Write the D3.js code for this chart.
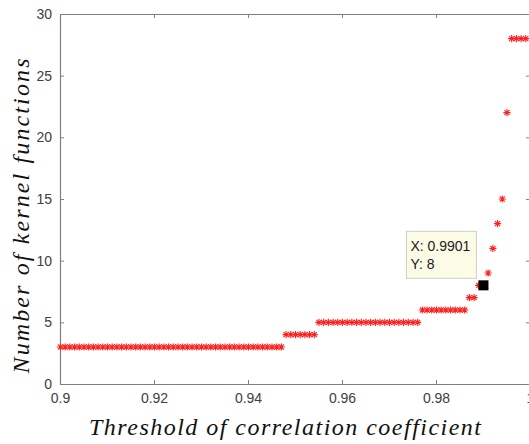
<!DOCTYPE html>
<html lang="en">
<head>
  <title>kernel functions vs threshold</title>
  <script type="text/javascript" src="https://cdn.jsdelivr.net/npm/d3@7"></script>
  <style>
    body {
      margin: 0px;
      background: white;
    }
    svg {
      display: block;
    }
  </style>
</head>
<body>
  <script type="text/javascript">
    // Data
    var thresholds = [
      0.9001, 0.9011, 0.9021, 0.9031, 0.9041, 0.9051, 0.9061, 0.9071, 0.9081, 0.9091,
      0.9101, 0.9111, 0.9121, 0.9131, 0.9141, 0.9151, 0.9161, 0.9171, 0.9181, 0.9191,
      0.9201, 0.9211, 0.9221, 0.9231, 0.9241, 0.9251, 0.9261, 0.9271, 0.9281, 0.9291,
      0.9301, 0.9311, 0.9321, 0.9331, 0.9341, 0.9351, 0.9361, 0.9371, 0.9381, 0.9391,
      0.9401, 0.9411, 0.9421, 0.9431, 0.9441, 0.9451, 0.9461, 0.9471, 0.9481, 0.9491,
      0.9501, 0.9511, 0.9521, 0.9531, 0.9541, 0.9551, 0.9561, 0.9571, 0.9581, 0.9591,
      0.9601, 0.9611, 0.9621, 0.9631, 0.9641, 0.9651, 0.9661, 0.9671, 0.9681, 0.9691,
      0.9701, 0.9711, 0.9721, 0.9731, 0.9741, 0.9751, 0.9761, 0.9771, 0.9781, 0.9791,
      0.9801, 0.9811, 0.9821, 0.9831, 0.9841, 0.9851, 0.9861, 0.9871, 0.9881, 0.9891,
      0.9901, 0.9911, 0.9921, 0.9931, 0.9941, 0.9951, 0.9961, 0.9971, 0.9981, 0.9991
    ];
    var kernelCounts = [
      3, 3, 3, 3, 3, 3, 3, 3, 3, 3,
      3, 3, 3, 3, 3, 3, 3, 3, 3, 3,
      3, 3, 3, 3, 3, 3, 3, 3, 3, 3,
      3, 3, 3, 3, 3, 3, 3, 3, 3, 3,
      3, 3, 3, 3, 3, 3, 3, 3, 4, 4,
      4, 4, 4, 4, 4, 5, 5, 5, 5, 5,
      5, 5, 5, 5, 5, 5, 5, 5, 5, 5,
      5, 5, 5, 5, 5, 5, 5, 6, 6, 6,
      6, 6, 6, 6, 6, 6, 6, 7, 7, 8,
      8, 9, 11, 13, 15, 22, 28, 28, 28, 28
    ];
    var xTicks = [0.9, 0.92, 0.94, 0.96, 0.98, 1];
    var yTicks = [0, 5, 10, 15, 20, 25, 30];
    var tipIndex = 90;  // the data tip point

    // Layout (note: "top" is a reserved window property, so use other names)
    var width = 529;
    var height = 444;
    var plotLeft = 60, plotTop = 14, plotRight = 530, plotBottom = 384;

    var svg = d3.select("body").append("svg")
      .attr("width", width)
      .attr("height", height);

    svg.append("rect")
      .attr("width", width)
      .attr("height", height)
      .attr("fill", "white");

    var x = d3.scaleLinear().domain([0.9, 1.0]).range([plotLeft, plotRight]);
    var y = d3.scaleLinear().domain([0, 30]).range([plotBottom, plotTop]);

    var axisColor = "#808080";
    var labelColor = "#404040";

    // Axes (MATLAB style: ticks pointing inward, box on)
    var gx = svg.append("g")
      .attr("transform", "translate(0," + plotBottom + ")")
      .call(d3.axisBottom(x).tickValues(xTicks).tickSizeInner(-4).tickSizeOuter(0)
        .tickFormat(function(d) { return d === 1 ? "1" : d3.format(".2~f")(d); }));
    var gy = svg.append("g")
      .attr("transform", "translate(" + plotLeft + ",0)")
      .call(d3.axisLeft(y).tickValues(yTicks).tickSizeInner(-4).tickSizeOuter(0));
    var gt = svg.append("g")
      .attr("transform", "translate(0," + plotTop + ")")
      .call(d3.axisTop(x).tickValues(xTicks).tickSizeInner(-4).tickSizeOuter(0).tickFormat(""));
    var gr = svg.append("g")
      .attr("transform", "translate(" + plotRight + ",0)")
      .call(d3.axisRight(y).tickValues(yTicks).tickSizeInner(-4).tickSizeOuter(0).tickFormat(""));

    [gx, gy, gt, gr].forEach(function(g) {
      g.select(".domain").attr("stroke", axisColor).attr("stroke-width", 1.2);
      g.selectAll(".tick line").attr("stroke", axisColor);
      g.selectAll(".tick text")
        .attr("fill", labelColor)
        .style("font-family", "'Liberation Sans', Arial, sans-serif")
        .style("font-size", "14px");
    });
    gx.selectAll(".tick text").attr("y", 9);
    gy.selectAll(".tick text").attr("x", -8);

    // Asterisk markers
    var r = 3.6;
    var d45 = r * Math.SQRT1_2;
    var starPath = "M" + (-r) + ",0L" + r + ",0" +
      "M0," + (-r) + "L0," + r +
      "M" + (-d45) + "," + (-d45) + "L" + d45 + "," + d45 +
      "M" + (-d45) + "," + d45 + "L" + d45 + "," + (-d45);

    var points = thresholds.map(function(t, i) { return {x: t, y: kernelCounts[i]}; });

    svg.append("g").selectAll("path")
      .data(points)
      .enter().append("path")
      .attr("d", starPath)
      .attr("transform", function(d) { return "translate(" + x(d.x) + "," + y(d.y) + ")"; })
      .attr("fill", "none")
      .attr("stroke", "#ff2020")
      .attr("stroke-width", 1.1);

    // Data tip
    var tip = points[tipIndex];
    svg.append("rect")
      .attr("x", x(tip.x) - 5)
      .attr("y", y(tip.y) - 5)
      .attr("width", 10)
      .attr("height", 10)
      .attr("fill", "black");

    var tx = x(tip.x) - 77, ty = y(tip.y) - 54;
    svg.append("rect")
      .attr("x", tx)
      .attr("y", ty)
      .attr("width", 70)
      .attr("height", 47)
      .attr("fill", "#fbfbe6")
      .attr("stroke", "#d0d0c8")
      .attr("stroke-width", 1);

    svg.append("g").selectAll("text")
      .data(["X: " + d3.format(".4f")(tip.x), "Y: " + tip.y])
      .enter().append("text")
      .attr("x", tx + 4)
      .attr("y", function(d, i) { return ty + 20 + i * 18; })
      .attr("fill", "#1a1a1a")
      .style("font-family", "'Liberation Sans', Arial, sans-serif")
      .style("font-size", "14px")
      .text(function(d) { return d; });

    // Axis titles
    svg.append("text")
      .attr("x", 285)
      .attr("y", 435)
      .attr("text-anchor", "middle")
      .attr("textLength", 392)
      .attr("lengthAdjust", "spacing")
      .attr("fill", "#111")
      .style("font-family", "'Liberation Serif', 'DejaVu Serif', serif")
      .style("font-style", "italic")
      .style("font-size", "24px")
      .text("Threshold of correlation coefficient");

    svg.append("text")
      .attr("transform", "translate(29,216) rotate(-90)")
      .attr("text-anchor", "middle")
      .attr("textLength", 315)
      .attr("lengthAdjust", "spacing")
      .attr("fill", "#111")
      .style("font-family", "'Liberation Serif', 'DejaVu Serif', serif")
      .style("font-style", "italic")
      .style("font-size", "24px")
      .text("Number of kernel functions");
  </script>
</body>
</html>
